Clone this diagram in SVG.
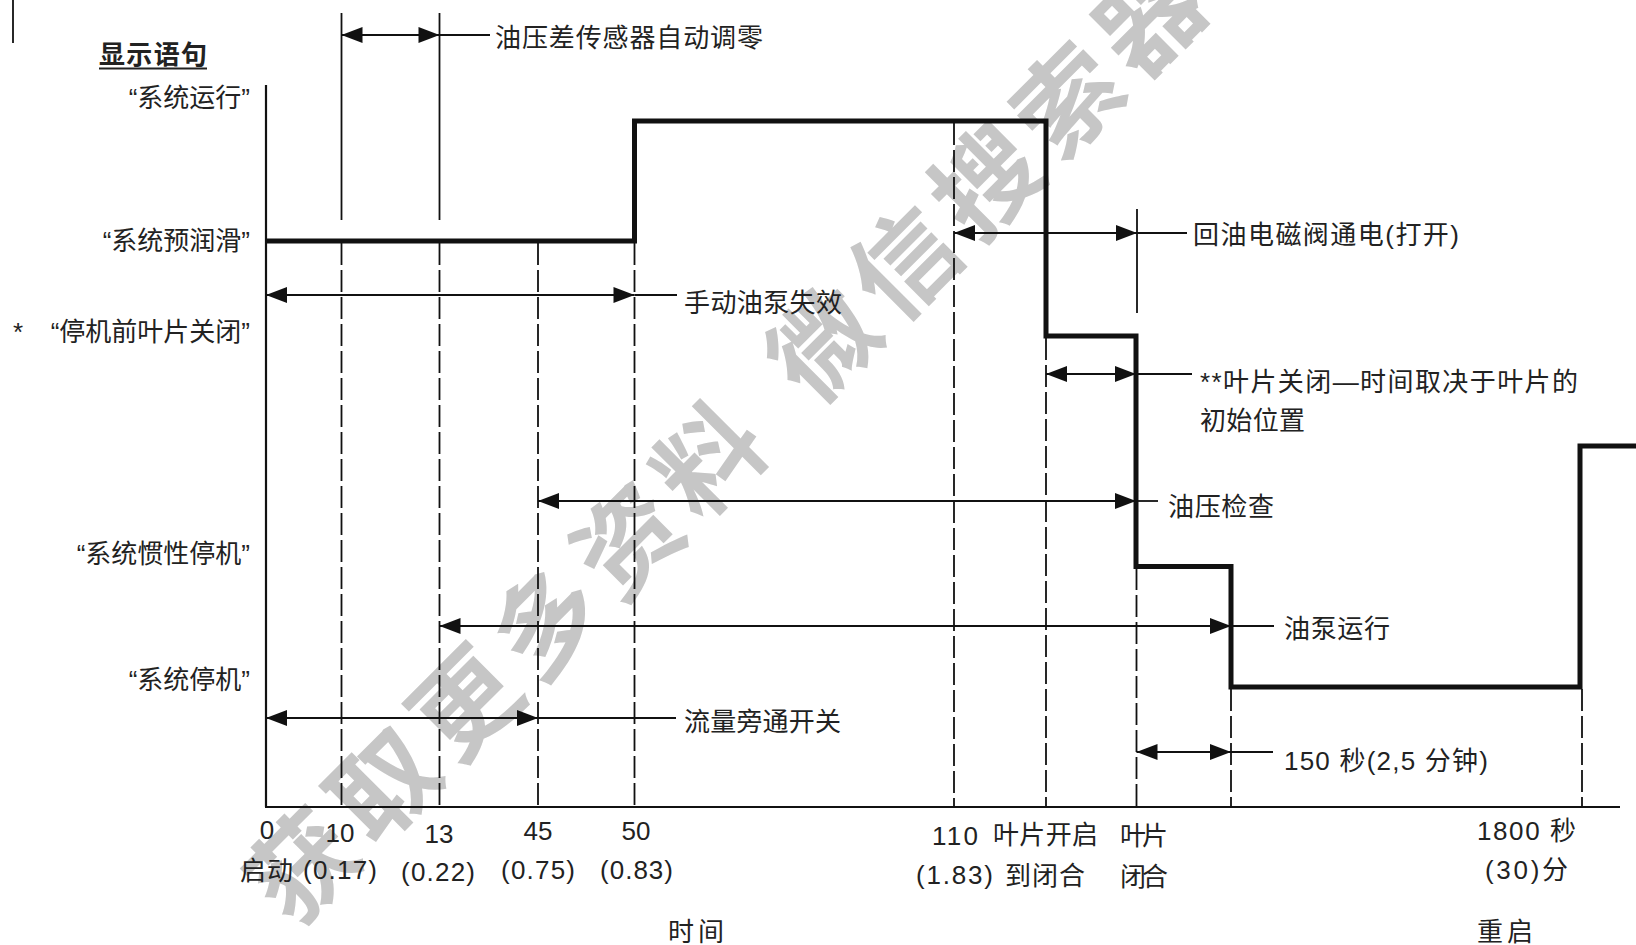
<svg xmlns="http://www.w3.org/2000/svg" width="1636" height="945" viewBox="0 0 1636 945">
<defs>
<style>
.t{font-family:"Liberation Sans","Noto Sans CJK SC",sans-serif;fill:#222;font-size:26px}
.n{font-family:"Liberation Sans","Noto Sans CJK SC",sans-serif;fill:#222;font-size:26px}
.thin{stroke:#111;stroke-width:1.8;fill:none}
.dash{stroke:#111;stroke-width:1.8;fill:none;stroke-dasharray:22 5}
.dim{stroke:#111;stroke-width:1.8;fill:none;marker-start:url(#ah);marker-end:url(#ah)}
.wm{font-family:"Noto Sans CJK SC",sans-serif;font-size:104px;font-weight:bold;fill:#c6c6c6;letter-spacing:11px}
</style>
<marker id="ah" viewBox="-22 -10 24 20" refX="0" refY="0" markerWidth="24" markerHeight="20" markerUnits="userSpaceOnUse" orient="auto-start-reverse" overflow="visible">
<path d="M0,0 L-21,-8 L-21,8 Z" fill="#111"/>
</marker>
</defs>
<rect width="1636" height="945" fill="#fff"/>

<g id="watermark">
<text class="wm" transform="translate(293,930) rotate(-45)">获取更多资料</text>
<text class="wm" transform="translate(814,408) rotate(-45)">微信搜索器</text>
</g>

<g id="axes">
<line x1="13" y1="0" x2="13" y2="43" class="thin"/>
<line x1="266" y1="85" x2="266" y2="807" stroke="#111" stroke-width="2.2"/>
<line x1="265" y1="807" x2="1620" y2="807" stroke="#111" stroke-width="2.2"/>
</g>

<g id="guides">
<line x1="341.5" y1="13" x2="341.5" y2="220" class="thin"/>
<line x1="439.5" y1="13" x2="439.5" y2="220" class="thin"/>
<line x1="341.5" y1="243" x2="341.5" y2="807" class="dash"/>
<line x1="439.5" y1="243" x2="439.5" y2="807" class="dash"/>
<line x1="538" y1="243" x2="538" y2="807" class="dash"/>
<line x1="634.5" y1="243" x2="634.5" y2="807" class="dash"/>
<line x1="954" y1="123" x2="954" y2="807" class="dash"/>
<line x1="1046" y1="338" x2="1046" y2="807" class="dash"/>
<line x1="1137" y1="209" x2="1137" y2="313" class="thin"/>
<line x1="1136.5" y1="568" x2="1136.5" y2="807" class="dash"/>
<line x1="1231" y1="689" x2="1231" y2="807" class="dash"/>
<line x1="1582" y1="689" x2="1582" y2="807" class="dash"/>
</g>

<g id="signal">
<path d="M266,241 H634.5 V121 H1046 V336 H1136 V566.5 H1231 V687 H1580 V446 H1640" fill="none" stroke="#111" stroke-width="5" stroke-linejoin="miter"/>
</g>

<g id="connectors">
<path class="dim" d="M341.5,35 H439.5"/><line class="thin" x1="439.5" y1="35" x2="490" y2="35"/>
<path class="dim" d="M954,233 H1137"/><line class="thin" x1="1137" y1="233" x2="1187" y2="233"/>
<path class="dim" d="M266,295 H634.5"/><line class="thin" x1="634.5" y1="295" x2="677" y2="295"/>
<path class="dim" d="M1046,374 H1136"/><line class="thin" x1="1136" y1="374" x2="1192" y2="374"/>
<path class="dim" d="M538,501 H1136"/><line class="thin" x1="1136" y1="501" x2="1158" y2="501"/>
<path class="dim" d="M439.5,626 H1231"/><line class="thin" x1="1231" y1="626" x2="1274" y2="626"/>
<path class="dim" d="M266,718 H538"/><line class="thin" x1="538" y1="718" x2="676" y2="718"/>
<path class="dim" d="M1136.5,752 H1231"/><line class="thin" x1="1231" y1="752" x2="1273" y2="752"/>
</g>

<g id="y-labels">
<g id="hdr"><text class="t" x="99" y="64" textLength="108" font-weight="bold">显示语句</text><line x1="99" y1="68.5" x2="207" y2="68.5" stroke="#222" stroke-width="2"/></g>
<g id="lv-run"><text class="t" x="250" y="107" text-anchor="end">“系统运行”</text></g>
<g id="lv-prelube"><text class="t" x="250" y="250" text-anchor="end">“系统预润滑”</text></g>
<g id="lv-vanes"><text class="t" x="13" y="341" font-size="20">*</text><text class="t" x="250" y="341" text-anchor="end">“停机前叶片关闭”</text></g>
<g id="lv-coast"><text class="t" x="250" y="563" text-anchor="end">“系统惯性停机”</text></g>
<g id="lv-stop"><text class="t" x="250" y="689" text-anchor="end">“系统停机”</text></g>
</g>

<g id="dim-labels">
<g id="l-autozero"><text class="t" x="495" y="46.5" textLength="268">油压差传感器自动调零</text></g>
<g id="l-solenoid"><text class="t" x="1193" y="244" textLength="266">回油电磁阀通电(打开)</text></g>
<g id="l-manual"><text class="t" x="684" y="311.5" textLength="158">手动油泵失效</text></g>
<g id="l-vaneclose"><text class="t" x="1200" y="391" textLength="378">**叶片关闭—时间取决于叶片的</text><text class="t" x="1200" y="430" textLength="105">初始位置</text></g>
<g id="l-oilcheck"><text class="t" x="1168" y="516" textLength="106">油压检查</text></g>
<g id="l-pump"><text class="t" x="1284" y="638" textLength="106">油泵运行</text></g>
<g id="l-bypass"><text class="t" x="684" y="731" textLength="157">流量旁通开关</text></g>
<g id="l-150"><text class="t" x="1284" y="770" textLength="204">150 秒(2,5 分钟)</text></g>
</g>

<g id="x-labels">
<text class="n" x="267" y="839" text-anchor="middle">0</text>
<text class="n" x="340" y="842" text-anchor="middle">10</text>
<text class="n" x="439" y="843" text-anchor="middle">13</text>
<text class="n" x="538" y="840" text-anchor="middle">45</text>
<text class="n" x="636" y="840" text-anchor="middle">50</text>
<text class="t" x="240" y="880" textLength="53">启动</text>
<text class="n" x="303" y="879" textLength="74">(0.17)</text>
<text class="n" x="401" y="881" textLength="74">(0.22)</text>
<text class="n" x="501" y="879" textLength="74">(0.75)</text>
<text class="n" x="600" y="879" textLength="73">(0.83)</text>
<text class="n" x="932" y="845" textLength="46">110</text>
<text class="t" x="993" y="844" textLength="105">叶片开启</text>
<text class="n" x="916" y="884" textLength="77">(1.83)</text>
<text class="t" x="1005" y="885" textLength="80">到闭合</text>
<text class="t" x="1120" y="845" textLength="48">叶片</text>
<text class="t" x="1120" y="886" textLength="48">闭合</text>
<text class="n" x="1477" y="840" textLength="99">1800 秒</text>
<text class="n" x="1485" y="879" textLength="83">(30)分</text>
<text class="t" x="668" y="941" textLength="56">时间</text>
<text class="t" x="1477" y="941" textLength="56">重启</text>
</g>
</svg>
